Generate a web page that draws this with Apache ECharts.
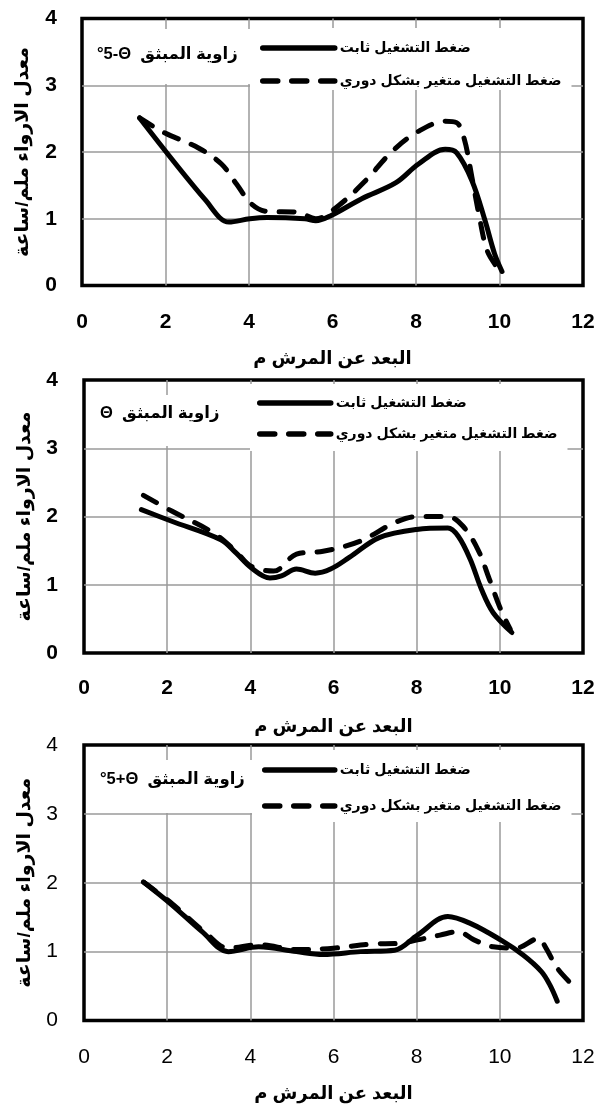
<!DOCTYPE html>
<html><head><meta charset="utf-8">
<script src="https://cdn.jsdelivr.net/npm/echarts@6/dist/echarts.min.js"></script>
<style>html,body{margin:0;padding:0;background:#fff}#c{width:596px;height:1110px}</style>
</head><body><div id="c"></div>
<script>
// ---- data ----
const seriesNames = ['ضغط التشغيل ثابت', 'ضغط التشغيل متغير بشكل دوري'];
const angleLabels = ['°5-Θ  زاوية المبثق', 'Θ  زاوية المبثق', '°5+Θ  زاوية المبثق'];
const xAxisTitle = 'البعد عن المرش م';
const yAxisTitle = 'معدل الارواء ملم/ساعة';

const p1Constant = [[1.38,2.51],[2.97,1.27],[3.52,0.95],[4.02,1.0],[4.43,1.02],[5.34,1.0],[5.6,0.97],[5.97,1.05],[6.7,1.3],[7.52,1.54],[8.06,1.82],[8.7,2.04],[8.97,1.99],[9.34,1.57],[9.65,0.98],[9.88,0.48],[10.06,0.21]];
const p1Periodic = [[1.38,2.51],[1.97,2.29],[2.79,2.06],[3.34,1.82],[3.7,1.52],[4.06,1.22],[4.43,1.11],[5.15,1.1],[5.6,1.0],[6.15,1.2],[6.79,1.57],[7.43,2.01],[8.06,2.31],[8.7,2.46],[8.97,2.44],[9.15,2.21],[9.34,1.62],[9.52,1.02],[9.7,0.53],[9.93,0.28],[10.06,0.18]];

const p2Constant = [[1.38,2.1],[2.11,1.93],[3.29,1.66],[3.65,1.47],[4.02,1.25],[4.47,1.1],[4.75,1.13],[5.11,1.23],[5.56,1.17],[5.93,1.23],[6.38,1.4],[7.1,1.69],[8.0,1.81],[8.75,1.83],[9.0,1.71],[9.29,1.37],[9.56,0.93],[9.84,0.59],[10.29,0.3]];
const p2Periodic = [[1.43,2.31],[2.11,2.08],[3.11,1.76],[3.65,1.49],[4.02,1.27],[4.56,1.2],[5.11,1.45],[5.75,1.49],[6.65,1.64],[7.47,1.91],[8.02,2.0],[8.75,2.0],[9.11,1.86],[9.47,1.52],[9.75,1.08],[10.02,0.64],[10.25,0.35]];

const p3Constant = [[1.43,2.01],[2.11,1.68],[2.84,1.29],[3.47,1.0],[4.2,1.07],[5.11,1.0],[5.75,0.96],[6.65,1.0],[7.47,1.02],[8.02,1.24],[8.75,1.51],[9.29,1.41],[10.02,1.17],[10.56,0.95],[11.0,0.71],[11.2,0.52],[11.38,0.28]];
const p3Periodic = [[1.43,2.01],[2.11,1.7],[2.93,1.27],[3.47,1.05],[4.2,1.1],[5.11,1.03],[6.0,1.05],[6.93,1.11],[7.56,1.12],[8.02,1.17],[8.56,1.24],[9.0,1.29],[9.38,1.17],[9.84,1.07],[10.38,1.05],[10.93,1.19],[11.11,1.05],[11.38,0.76],[11.79,0.49]];

const panelData = [[p1Constant, p1Periodic],[p2Constant, p2Periodic],[p3Constant, p3Periodic]];

// ---- layout ----
const grids = [
  {left: 82, right: 13, top: 18.5, height: 267},
  {left: 84, right: 13, top: 380, height: 273},
  {left: 84, right: 13, top: 745, height: 275.5}
];
const boldTicks = [true, true, false];
const yLabelMargin = [25, 26, 26];
const legendLayout = [
  {left: 250, top: 28, pad: [12, 10, 1, 10], gap: 17, iw: 72},
  {left: 250, top: 384, pad: [11, 10, 9, 7], gap: 15, iw: 71},
  {left: 252, top: 750, pad: [12, 10, 8, 10], gap: 20, iw: 70}
];
const annoLayout = [
  {x: 97, y: 54, box: [84, 29, 166, 55]},
  {x: 100, y: 413, box: [86, 395, 164, 51]},
  {x: 100, y: 779, box: [86, 760, 166, 53]}
];

const FONT = '"Liberation Sans", Arial, "DejaVu Sans", sans-serif';
const chart = echarts.init(document.getElementById('c'), null, {renderer: 'canvas'});

const option = {
  animation: false,
  backgroundColor: '#fff',
  grid: grids.map(g => Object.assign({show: true, borderColor: '#000', borderWidth: 3.5, backgroundColor: 'transparent', containLabel: false, outerBoundsMode: 'none'}, g)),
  xAxis: grids.map((g, i) => ({
    type: 'value', gridIndex: i, min: 0, max: 12, interval: 2,
    axisLine: {show: false}, axisTick: {show: false},
    axisLabel: {margin: i === 1 ? 24.5 : 26, color: '#000', fontSize: 21, fontWeight: boldTicks[i] ? 'bold' : 'normal', fontFamily: FONT},
    splitLine: {show: true, showMinLine: false, showMaxLine: false, lineStyle: {color: '#9a9a9a', width: 1.5}},
    name: xAxisTitle, nameLocation: 'middle', nameGap: 65, nameMoveOverlap: false,
    nameTextStyle: {color: '#000', fontSize: 18, fontWeight: 'bold', fontFamily: FONT}
  })),
  yAxis: grids.map((g, i) => ({
    type: 'value', gridIndex: i, min: 0, max: 4, interval: 1,
    axisLine: {show: false}, axisTick: {show: false},
    axisLabel: {margin: yLabelMargin[i], color: '#000', fontSize: 21, fontWeight: boldTicks[i] ? 'bold' : 'normal', fontFamily: FONT},
    splitLine: {show: true, showMinLine: false, showMaxLine: false, lineStyle: {color: '#9a9a9a', width: 1.5}},
    name: yAxisTitle, nameLocation: 'middle', nameGap: 50, nameRotate: 90, nameMoveOverlap: false,
    nameTextStyle: {color: '#000', fontSize: 19, fontWeight: 'bold', fontFamily: FONT}
  })),
  legend: legendLayout.map((l, i) => ({
    orient: 'vertical', left: l.left, top: l.top, padding: l.pad, itemGap: l.gap,
    itemWidth: l.iw, itemHeight: 16, backgroundColor: '#fff', z: 5,
    data: seriesNames,
    selectedMode: false,
    itemStyle: {opacity: 0},
    lineStyle: {width: 5.5},
    textStyle: {color: '#000', fontSize: 14, fontWeight: 'bold', fontFamily: FONT, lineHeight: 16}
  })),
  graphic: annoLayout.flatMap((a, i) => [
    {type: 'rect', z: 3, shape: {x: a.box[0], y: a.box[1], width: a.box[2], height: a.box[3]}, style: {fill: '#fff'}},
    {type: 'text', z: 6, x: a.x, y: a.y, style: {text: angleLabels[i], fill: '#000', font: 'bold 16.5px ' + FONT, textVerticalAlign: 'middle', textAlign: 'left'}}
  ]),
  series: panelData.flatMap((pd, i) => [
    {name: seriesNames[0], type: 'line', xAxisIndex: i, yAxisIndex: i, data: pd[0], showSymbol: false, symbol: 'none', smooth: 0.35, z: 3,
     color: '#000', lineStyle: {color: '#000', width: 5, cap: 'round', join: 'round'}},
    {name: seriesNames[1], type: 'line', xAxisIndex: i, yAxisIndex: i, data: pd[1], showSymbol: false, symbol: 'none', smooth: 0.35, z: 4,
     color: '#000', lineStyle: {color: '#000', width: 5, type: [15, 14], cap: 'round', join: 'round'}}
  ])
};
chart.setOption(option);
</script></body></html>
